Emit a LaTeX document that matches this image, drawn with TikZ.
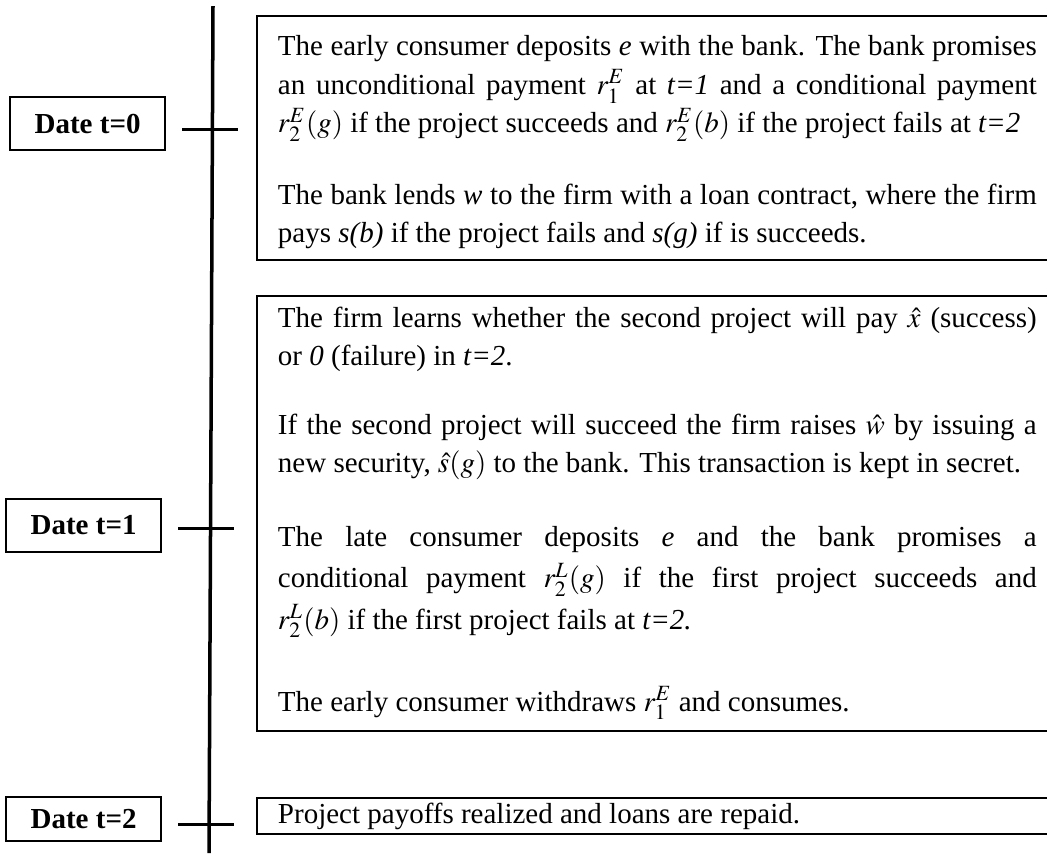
\documentclass[tikz,border=0pt]{standalone}
\usepackage{mathptmx}
\usepackage{fontspec}
\setmainfont{Liberation Serif}
\usetikzlibrary{positioning}
\tikzset{datebox/.style={
  draw=black,
  line width=0.8pt,
  font=\fontsize{12pt}{15.93pt}\selectfont\bfseries,
  minimum width=64.1pt,
  minimum height=21.9pt,
  inner sep=0pt,
  anchor=east}}
\tikzset{eventbox/.style={
  draw=black,
  line width=0.8pt,
  font=\fontsize{12pt}{15.93pt}\selectfont,
  text width=314pt,
  align=justify,
  inner xsep=8.7pt,
  inner ysep=4.5pt,
  anchor=north west}}
\tikzset{tallfirst/.style={
  execute at begin node={\rule{0pt}{12pt}}}}
\tikzset{tickmark/.style={
  line width=1.25pt}}
\newcommand{\pargap}[1][13.7pt]{\par\vspace{#1}}

\begin{document}
\begin{tikzpicture}[x=0.4138pt,y=-0.4138pt]
  \useasboundingbox (0,0) rectangle (1047,853);

  %%%% The time line %%%%
  \draw[line width=1.45pt] (213,6) -- (209,853);

  %% Dates on the left
  \node[datebox] (date0) at (166,123.5) {Date t=0};
  \node[datebox] (date1) at (162,525.5) {Date t=1};
  \node[datebox,minimum height=18.2pt] (date2) at (162,819) {Date t=2};

  %% Ticks crossing the time line
  \foreach \d/\dy in {date0/5.5,date1/2.5,date2/5}{
    \draw[tickmark] (\d.east) ++(16,\dy) -- ++(56,0);
  }

  %%%% What happens at each date %%%%
  \node[eventbox,tallfirst] (event0) at (256,15) {%
    The early consumer deposits \textit{e} with the bank. The bank promises\linebreak
    an unconditional payment $r_1^E$ at \textit{t=1} and a conditional payment\linebreak
    $r_2^E(g)$ if the project succeeds and $r_2^E(b)$ if the project fails at \textit{t=2}\pargap
    The bank lends \textit{w} to the firm with a loan contract, where the firm\linebreak
    pays \textit{s(b)} if the project fails and \textit{s(g)} if is succeeds.};

  \node[eventbox] (event1) at (256,295) {%
    The firm learns whether the second project will pay $\hat{x}$ (success)\linebreak
    or \textit{0} (failure) in \textit{t=2}.\pargap[12.5pt]
    If the second project will succeed the firm raises $\hat{w}$ by issuing a\linebreak
    new security, $\hat{s}(g)$ to the bank. This transaction is kept in secret.\pargap[13.3pt]
    {\fontsize{12pt}{17.1pt}\selectfont
    The late consumer deposits \textit{e} and the bank promises a\linebreak
    conditional payment $r_2^L(g)$ if the first project succeeds and\linebreak
    $r_2^L(b)$ if the first project fails at \textit{t=2.}\par}\pargap[18pt]
    The early consumer withdraws $r_1^E$ and consumes.};

  \node[eventbox,inner ysep=2pt] (event2) at (256,797) {%
    Project payoffs realized and loans are repaid.};

\end{tikzpicture}
\end{document}
